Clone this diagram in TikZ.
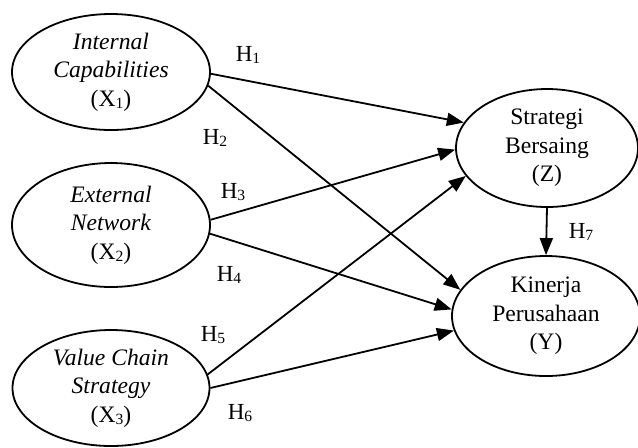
\documentclass[tikz,border=0pt]{standalone}
\usepackage{fontspec}
\setmainfont{Liberation Serif}
\usetikzlibrary{shapes.geometric,arrows.meta}
\newcommand\sbs[1]{\raisebox{-0.12em}{\fontsize{7.8}{8}\selectfont #1}}
\tikzset{
  var/.style={draw, ellipse, line width=0.9pt, inner sep=0pt, align=center,
    font=\fontsize{11.8}{14.2}\selectfont},
  path/.style={line width=0.9pt, -{Triangle[length=8.5pt,width=6.5pt]}},
  hlab/.style={font=\fontsize{11.5}{14}\selectfont, inner sep=0pt}
}
\begin{document}
\begin{tikzpicture}[x=0.5pt,y=-0.5pt]
\useasboundingbox (0,0) rectangle (638,447);
\node[var, minimum width=99pt, minimum height=58pt] (x1) at (111,72)
  {\textit{Internal}\\ \textit{Capabilities}\\ (X\sbs{1})};
\node[var, minimum width=99pt, minimum height=62pt] (x2) at (111,225)
  {\textit{External}\\ \textit{Network}\\ (X\sbs{2})};
\node[var, minimum width=98.5pt, minimum height=58pt] (x3) at (111,388)
  {\textit{Value Chain}\\ \textit{Strategy}\\ (X\sbs{3})};
\node[var, minimum width=91pt, minimum height=59pt] (z) at (547,148)
  {Strategi\\ Bersaing\\ (Z)};
\node[var, minimum width=94pt, minimum height=60pt] (y) at (546,316)
  {Kinerja\\ Perusahaan\\ (Y)};
\draw[path] (x1.-1) -- (z.163);
\draw[path] (x1.-8) -- (y.163);
\draw[path] (x2.3) -- (z.181);
\draw[path] (x2.-5) -- (y.176);
\draw[path] (x3.8) -- (z.199);
\draw[path] (x3.0) -- (y.189);
\draw[path] (z.south) -- (y.north);
\node[hlab] (h1) at (248,55) {H\sbs{1}};
\node[hlab] (h2) at (215,138) {H\sbs{2}};
\node[hlab] (h3) at (233,192) {H\sbs{3}};
\node[hlab] (h4) at (229,275) {H\sbs{4}};
\node[hlab] (h5) at (213,335) {H\sbs{5}};
\node[hlab] (h6) at (240,413) {H\sbs{6}};
\node[hlab] (h7) at (581,232) {H\sbs{7}};
\end{tikzpicture}
\end{document}
